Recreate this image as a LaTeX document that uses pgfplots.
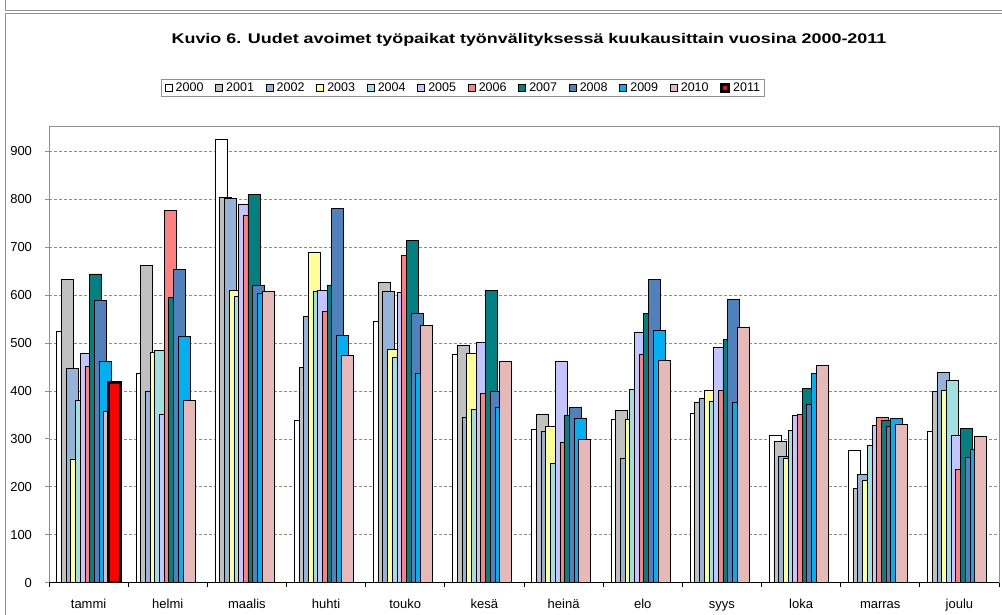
\documentclass[border=0pt]{standalone}
\usepackage{fontspec}
\setmainfont{Liberation Sans}
\usepackage{pgfplots}
\usepackage{pgfplotstable}
\pgfplotsset{compat=1.18}

\definecolor{c2000}{HTML}{FFFFFF}
\definecolor{c2001}{HTML}{C0C0C0}
\definecolor{c2002}{HTML}{95B3D7}
\definecolor{c2003}{HTML}{FFFF99}
\definecolor{c2004}{HTML}{A0E0E0}
\definecolor{c2005}{HTML}{C4C4FF}
\definecolor{c2006}{HTML}{FF8080}
\definecolor{c2007}{HTML}{008080}
\definecolor{c2008}{HTML}{4F81BD}
\definecolor{c2009}{HTML}{00B0F0}
\definecolor{c2010}{HTML}{E6B9B8}
\definecolor{c2011}{HTML}{FF0000}
\definecolor{framegray}{HTML}{909090}
\definecolor{gridgray}{HTML}{8C8C8C}

% month index, new job vacancies per year
\pgfplotstableread{
x  y2000 y2001 y2002 y2003 y2004 y2005 y2006 y2007 y2008 y2009 y2010
0  525   633   446   258   381   479   451   644   588   462   358
1  436   661   399   481   485   351   776   595   653   513   381
2  924   803   801   610   598   790   767   809   620   603   607
3  338   449   555   688   607   610   566   621   781   516   475
4  545   627   607   487   469   605   683   714   561   436   536
5  477   495   345   479   361   501   395   610   399   365   462
6  319   351   315   327   249   462   293   349   365   342   298
7  340   360   260   340   404   523   477   562   633   526   464
8  354   377   384   401   379   490   401   507   590   377   533
9  308   295   264   260   317   350   352   406   371   436   453
10 276   197   226   213   287   328   345   338   326   342   331
11 315   400   438   401   423   308   237   321   262   278   306
}\datatable

\pgfplotstableread{
x y2011
0 418
}\datatableB

\pgfplotsset{
  yrbar/.style 2 args={ybar, bar width=12pt, bar shift=#1, fill=#2, draw=black, line width=0.7pt,
    legend image code/.code={\draw[##1,/tikz/.cd,yshift=0pt] (0pt,-3.5pt) rectangle (7pt,3.5pt);}},
}

\begin{document}
\begin{tikzpicture}
\useasboundingbox (0pt,0pt) rectangle (1002pt,-615pt);
\draw[framegray, line width=0.8pt] (5pt,0pt) -- (5pt,-10pt) -- (1002pt,-10pt);
\draw[framegray, line width=0.8pt] (5pt,-615pt) -- (5pt,-13pt) -- (1002pt,-13pt);
\node[anchor=base, inner sep=0pt] at (529pt,-44pt) {\scalebox{1.28}[1]{\fontsize{14}{16}\selectfont\bfseries Kuvio 6. Uudet avoimet työpaikat työnvälityksessä kuukausittain vuosina 2000-2011}};
\begin{axis}[
  at={(49pt,-582.7pt)}, anchor=south west,
  width=950pt, height=456pt, scale only axis,
  xmin=-0.5, xmax=11.5, ymin=0, ymax=951,
  enlargelimits=false,
  axis line style={draw=framegray, line width=0.8pt},
  tick align=outside, tick pos=left,
  major tick length=4pt,
  xtick={-0.5,0.5,...,11.5}, xticklabels={},
  xtick style={black, line width=0.8pt},
  extra x ticks={0,1,...,11},
  extra x tick labels={tammi,helmi,maalis,huhti,touko,kesä,heinä,elo,syys,loka,marras,joulu},
  extra x tick style={major tick length=0pt},
  xticklabel style={anchor=base, yshift=-26pt},
  ytick={0,100,...,900},
  ytick style={framegray, line width=0.8pt},
  yticklabel style={anchor=east, xshift=-9.5pt},
  tick label style={font=\fontsize{13}{15}\selectfont},
  /pgf/number format/assume math mode=true,
  ymajorgrids,
  major grid style={gridgray, line width=0.7pt, dash pattern=on 3pt off 2pt},
  legend columns=12,
  legend cell align=left,
  legend style={at={(0.4358,1.0854)}, anchor=center, draw=framegray, line width=0.8pt,
    font=\fontsize{12.5}{14}\selectfont, inner xsep=3pt, inner ysep=2pt,
    nodes={inner sep=1.5pt},
    /tikz/every odd column/.append style={column sep=2pt},
    /tikz/every even column/.append style={column sep=10pt}},
]
\addplot[yrbar={-25.85pt}{c2000}] table[x=x,y=y2000]{\datatable};
\addplot[yrbar={-21.15pt}{c2001}] table[x=x,y=y2001]{\datatable};
\addplot[yrbar={-16.45pt}{c2002}] table[x=x,y=y2002]{\datatable};
\addplot[yrbar={-11.75pt}{c2003}] table[x=x,y=y2003]{\datatable};
\addplot[yrbar={-7.05pt}{c2004}] table[x=x,y=y2004]{\datatable};
\addplot[yrbar={-2.35pt}{c2005}] table[x=x,y=y2005]{\datatable};
\addplot[yrbar={2.35pt}{c2006}] table[x=x,y=y2006]{\datatable};
\addplot[yrbar={7.05pt}{c2007}] table[x=x,y=y2007]{\datatable};
\addplot[yrbar={11.75pt}{c2008}] table[x=x,y=y2008]{\datatable};
\addplot[yrbar={16.45pt}{c2009}] table[x=x,y=y2009]{\datatable};
\addplot[yrbar={21.15pt}{c2010}] table[x=x,y=y2010]{\datatable};
\addplot[yrbar={25.85pt}{c2011}, line width=2.5pt] table[x=x,y=y2011]{\datatableB};
\legend{2000,2001,2002,2003,2004,2005,2006,2007,2008,2009,2010,2011}
\draw[black, line width=1pt] (axis cs:-0.5,0) -- (axis cs:11.5,0);
\end{axis}
\end{tikzpicture}
\end{document}
